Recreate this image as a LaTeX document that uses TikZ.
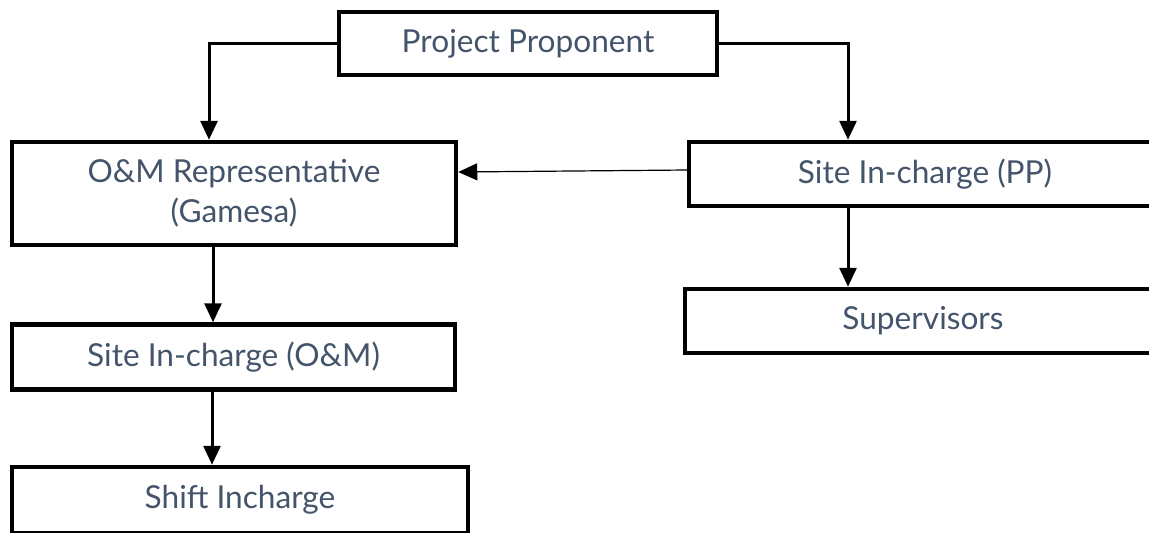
\documentclass[tikz,border=0pt]{standalone}
\usepackage{fontspec}
\setmainfont{Lato}
\usetikzlibrary{arrows.meta}
\definecolor{text_gray}{RGB}{68,84,106}
\newlength\px
\setlength\px{0.02cm}

\begin{document}
\begin{tikzpicture}[x=0.02cm,y=-0.02cm,>={Triangle[length=0.38cm,width=0.34cm]}]
    \tikzstyle{box}=[draw=black, line width=4.5\px, rectangle, fill=none, text=text_gray, align=center, inner sep=0pt,
                     font=\fontsize{18}{23}\selectfont]
    \tikzstyle{arr}=[->, line width=3\px]
    \tikzstyle{thinarr}=[->, line width=1.2\px]

    \useasboundingbox (0,0) rectangle (1149,532);

    \node[box, minimum width=378\px, minimum height=63\px] (proj)   at (528,43.5)  {Project Proponent};
    \node[box, minimum width=444\px, minimum height=103\px] (om)    at (234,193.5) {O\&M Representative\\(Gamesa)};
    \node[box, minimum width=472\px, minimum height=64\px] (sitepp) at (925,174)   {Site In-charge (PP)};
    \node[box, minimum width=476\px, minimum height=64\px] (sup)    at (923,321)   {Supervisors};
    \node[box, minimum width=443\px, minimum height=65\px] (siteom) at (233.5,357) {Site In-charge (O\&M)};
    \node[box, minimum width=456\px, minimum height=66\px] (shift)  at (240,500)   {Shift Incharge};

    \draw[arr] (proj.west) -| ([xshift=-25\px]om.north);
    \draw[arr] (proj.east) -| ([xshift=-77\px]sitepp.north);
    \draw[thinarr] ([yshift=4\px]sitepp.west) -- ([yshift=21.5\px]om.east);
    \draw[arr] ([xshift=-21\px]om.south) -- ([xshift=-21\px]om.south |- siteom.north);
    \draw[arr] ([xshift=-77\px]sitepp.south) -- ([xshift=-77\px]sitepp.south |- sup.north);
    \draw[arr] ([xshift=-21.5\px]siteom.south) -- ([xshift=-21.5\px]siteom.south |- shift.north);
\end{tikzpicture}
\end{document}
